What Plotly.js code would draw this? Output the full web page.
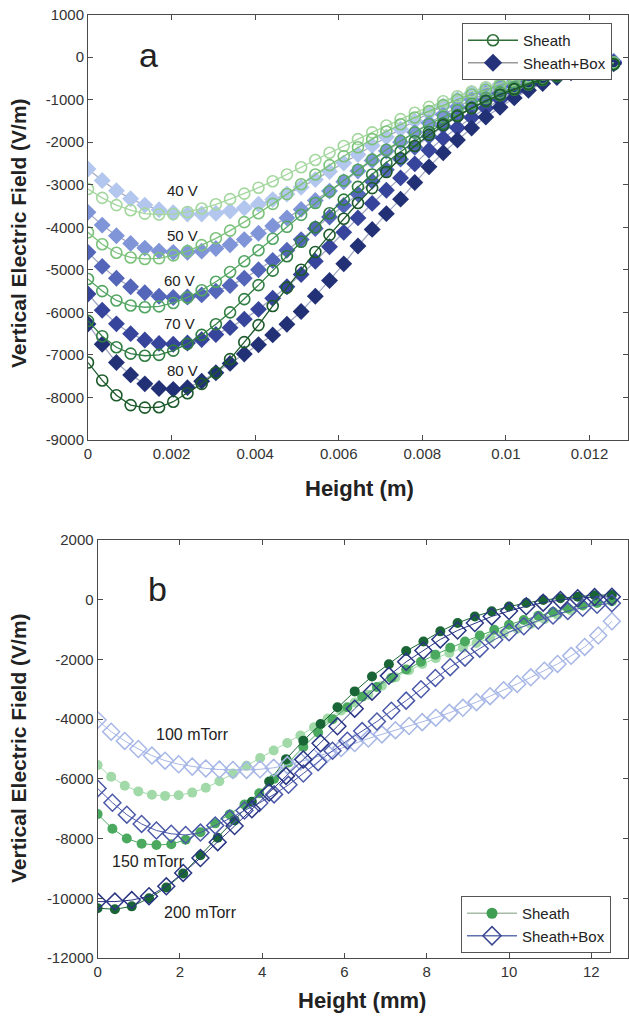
<!DOCTYPE html>
<html>
<head>
<meta charset="utf-8">
<script src="https://cdn.plot.ly/plotly-3.0.1.min.js"></script>
<style>html,body{margin:0;padding:0;background:#fff;}#chart{width:629px;height:1021px;}</style>
</head>
<body>
<div id="chart"></div>
<script>
// ---------- Panel a : height (m) ----------
const heightA = [0, 0.00034, 0.00068, 0.00102, 0.00136, 0.0017, 0.00204, 0.00238, 0.00272, 0.00306,
  0.0034, 0.00374, 0.00408, 0.00442, 0.00476, 0.0051, 0.00544, 0.00578, 0.00612, 0.00646,
  0.0068, 0.00714, 0.00748, 0.00782, 0.00816, 0.0085, 0.00884, 0.00918, 0.00952, 0.00986,
  0.0102, 0.01054, 0.01088, 0.01122, 0.01156, 0.0119, 0.01224, 0.01258];

const voltageLabels = ["40 V", "50 V", "60 V", "70 V", "80 V"];

const sheath40 = [-3100, -3310, -3480, -3600, -3680, -3700, -3690, -3640, -3560, -3460,
  -3340, -3210, -3070, -2920, -2760, -2590, -2420, -2250, -2090, -1930,
  -1770, -1610, -1460, -1310, -1170, -1040, -920, -810, -710, -620,
  -540, -460, -390, -330, -270, -220, -170, -130];
const sheath50 = [-4120, -4400, -4600, -4710, -4745, -4730, -4660, -4560, -4420, -4260,
  -4080, -3880, -3670, -3450, -3220, -2990, -2760, -2540, -2330, -2120,
  -1930, -1750, -1580, -1420, -1270, -1130, -1000, -880, -770, -670,
  -580, -490, -410, -340, -280, -220, -170, -130];
const sheath60 = [-5215, -5500, -5720, -5840, -5880, -5860, -5780, -5650, -5480, -5280,
  -5050, -4800, -4540, -4270, -3990, -3710, -3430, -3160, -2900, -2650,
  -2410, -2180, -1970, -1770, -1580, -1410, -1250, -1100, -960, -830,
  -710, -600, -500, -410, -330, -260, -200, -150];
const sheath70 = [-6200, -6560, -6820, -6970, -7020, -7000, -6900, -6740, -6530, -6280,
  -6000, -5690, -5360, -5020, -4680, -4340, -4000, -3670, -3350, -3050,
  -2760, -2480, -2220, -1980, -1760, -1560, -1370, -1200, -1040, -900,
  -770, -650, -540, -450, -360, -290, -220, -170];
const sheath80 = [-7180, -7600, -7950, -8180, -8240, -8230, -8100, -7900, -7680, -7420,
  -7100, -6700, -6300, -5850, -5420, -5000, -4580, -4180, -3800, -3430,
  -3080, -2700, -2380, -2090, -1830, -1600, -1390, -1200, -1030, -880,
  -750, -630, -520, -430, -350, -280, -220, -170];

const box40 = [-2630, -2900, -3140, -3330, -3480, -3590, -3660, -3690, -3690, -3670,
  -3620, -3550, -3460, -3350, -3220, -3060, -2880, -2690, -2490, -2290,
  -2080, -1880, -1690, -1500, -1320, -1150, -990, -850, -760, -640,
  -540, -450, -370, -300, -240, -190, -150, -110];
const box50 = [-3650, -3950, -4200, -4380, -4490, -4560, -4590, -4590, -4560, -4500,
  -4410, -4290, -4140, -3970, -3780, -3580, -3370, -3150, -2930, -2680,
  -2430, -2210, -2000, -1770, -1550, -1350, -1170, -1000, -850, -710,
  -580, -470, -370, -290, -220, -170, -130, -100];
const box60 = [-4590, -4920, -5200, -5400, -5540, -5620, -5650, -5640, -5590, -5500,
  -5370, -5200, -5000, -4780, -4540, -4290, -4030, -3760, -3490, -3220,
  -2920, -2650, -2400, -2120, -1860, -1620, -1400, -1200, -1010, -850,
  -690, -560, -450, -350, -270, -210, -160, -120];
const box70 = [-5570, -5950, -6270, -6500, -6650, -6730, -6750, -6720, -6640, -6520,
  -6360, -6160, -5930, -5670, -5400, -5110, -4800, -4460, -4120, -3780,
  -3440, -3130, -2840, -2510, -2190, -1910, -1660, -1420, -1200, -1000,
  -820, -660, -530, -410, -310, -240, -180, -130];
const box80 = [-6275, -6750, -7180, -7470, -7680, -7790, -7810, -7770, -7620, -7420,
  -7200, -6980, -6760, -6530, -6280, -5980, -5620, -5250, -4860, -4440,
  -4050, -3680, -3340, -2950, -2580, -2250, -1950, -1670, -1410, -1180,
  -960, -780, -620, -480, -370, -290, -220, -160];

// ---------- Panel b : height (mm) ----------
const pressureLabels = ["100 mTorr", "150 mTorr", "200 mTorr"];

const height100 = [0, 0.33, 0.66, 0.99, 1.32, 1.64, 1.97, 2.30, 2.63, 2.96, 3.29, 3.62, 3.95,
  4.28, 4.61, 4.93, 5.26, 5.59, 5.92, 6.25, 6.58, 6.91, 7.24, 7.57, 7.89, 8.22, 8.55, 8.88,
  9.21, 9.54, 9.87, 10.20, 10.53, 10.86, 11.18, 11.51, 11.84, 12.17, 12.50];
const height150 = [0, 0.36, 0.71, 1.07, 1.43, 1.79, 2.14, 2.50, 2.86, 3.21, 3.57, 3.93,
  4.29, 4.64, 5.00, 5.36, 5.71, 6.07, 6.43, 6.79, 7.14, 7.50, 7.86, 8.21, 8.57, 8.93,
  9.29, 9.64, 10.00, 10.36, 10.71, 11.07, 11.43, 11.79, 12.14, 12.50];
const height200 = [0, 0.42, 0.83, 1.25, 1.67, 2.08, 2.50, 2.92, 3.33, 3.75, 4.17, 4.58,
  5.00, 5.42, 5.83, 6.25, 6.67, 7.08, 7.50, 7.92, 8.33, 8.75, 9.17, 9.58, 10.00, 10.42,
  10.83, 11.25, 11.67, 12.08, 12.50];

const sheath100mT = [-5540, -5930, -6230, -6420, -6530, -6570, -6550, -6460, -6300, -6080,
  -5820, -5560, -5300, -5050, -4800, -4550, -4270, -3980, -3710, -3440,
  -3180, -2880, -2600, -2360, -2150, -1960, -1780, -1610, -1450, -1290,
  -1130, -970, -810, -650, -500, -360];
const sheath150mT = [-7180, -7670, -8000, -8170, -8215, -8190, -8040, -7790, -7490, -7190,
  -6860, -6480, -6000, -5450, -4930, -4450, -4000, -3600, -3250, -2920,
  -2620, -2340, -2080, -1840, -1610, -1400, -1200, -1010, -840, -680,
  -540, -410, -290, -190, -110, -50];
const sheath200mT = [-10330, -10370, -10270, -10000, -9640, -9170, -8560, -7970, -7390, -6770,
  -6090, -5340, -4720, -4160, -3600, -3070, -2570, -2160, -1720, -1400,
  -1060, -780, -560, -390, -230, -110, -10, 50, 100, 150, 160];

const box100mT = [-4030, -4420, -4730, -5000, -5220, -5390, -5510, -5590, -5650, -5690,
  -5700, -5700, -5680, -5630, -5540, -5420, -5290, -5140, -4970, -4800,
  -4650, -4510, -4370, -4230, -4100, -3950, -3790, -3620, -3430, -3230,
  -3030, -2820, -2600, -2380, -2150, -1880, -1580, -1200, -720];
const box150mT = [-6320, -6800, -7200, -7510, -7730, -7840, -7880, -7800, -7560, -7330,
  -7060, -6810, -6520, -6200, -5820, -5440, -5060, -4720, -4400, -4080,
  -3720, -3380, -3000, -2620, -2260, -1940, -1640, -1340, -1090, -890,
  -700, -530, -380, -270, -170, -120];
const box200mT = [-10110, -10110, -10060, -9930, -9600, -9150, -8650, -8120, -7580, -7020,
  -6460, -5900, -5350, -4810, -4240, -3650, -3080, -2550, -2080, -1700,
  -1330, -1030, -780, -560, -380, -220, -100, -10, 50, 90, 100];

// tick labels
const yTicksA = [1000, 0, -1000, -2000, -3000, -4000, -5000, -6000, -7000, -8000, -9000];
const xTicksA = [0, 0.002, 0.004, 0.006, 0.008, 0.01, 0.012];
const xTickTextA = ["0", "0.002", "0.004", "0.006", "0.008", "0.01", "0.012"];
const yTicksB = [2000, 0, -2000, -4000, -6000, -8000, -10000, -12000];
const xTicksB = [0, 2, 4, 6, 8, 10, 12];

// ---------- styles ----------
const FONT = "Liberation Sans, Arial, Helvetica, sans-serif";
const greensA = ["#a3d79e", "#7cc27b", "#52a562", "#307d42", "#1c5a2b"];
const bluesA = ["#b3c7ee", "#7f95d8", "#5366b9", "#36459b", "#223176"];
const greensB = ["#a2d9a8", "#4aa95e", "#1a6535"];
const bluesB = ["#a7b7e6", "#4b59a9", "#2a3684"];

const traces = [];
const boxA = [box40, box50, box60, box70, box80];
const sheathA = [sheath40, sheath50, sheath60, sheath70, sheath80];
boxA.forEach((ys, i) => traces.push({
  type: "scatter", mode: "lines+markers", x: heightA, y: ys, xaxis: "x", yaxis: "y",
  name: "Sheath+Box " + voltageLabels[i], showlegend: false,
  line: {color: "#a2aac2", width: 1.3},
  marker: {symbol: "diamond", size: 13, color: bluesA[i], line: {width: 0}}
}));
sheathA.forEach((ys, i) => traces.push({
  type: "scatter", mode: "lines+markers", x: heightA, y: ys, xaxis: "x", yaxis: "y",
  name: "Sheath " + voltageLabels[i], showlegend: false,
  line: {color: greensA[i], width: 1.3},
  marker: {symbol: "circle-open", size: 11, color: greensA[i], line: {width: 1.6, color: greensA[i]}}
}));
// legend entries panel a
traces.push({type: "scatter", mode: "lines+markers", x: [null], y: [null], xaxis: "x", yaxis: "y",
  name: "Sheath", legend: "legend", line: {color: "#2f6e36", width: 1.3},
  marker: {symbol: "circle-open", size: 11, color: "#2f6e36", line: {width: 1.6}}});
traces.push({type: "scatter", mode: "lines+markers", x: [null], y: [null], xaxis: "x", yaxis: "y",
  name: "Sheath+Box", legend: "legend", line: {color: "#999999", width: 1.3},
  marker: {symbol: "diamond", size: 14, color: "#25347a"}});

const hB = [height100, height150, height200];
const sheathB = [sheath100mT, sheath150mT, sheath200mT];
const boxB = [box100mT, box150mT, box200mT];
sheathB.forEach((ys, i) => traces.push({
  type: "scatter", mode: "lines+markers", x: hB[i], y: ys, xaxis: "x2", yaxis: "y2",
  name: "Sheath " + pressureLabels[i], showlegend: false,
  line: {color: greensB[i], width: 1},
  marker: {symbol: "circle", size: 10, color: greensB[i]}
}));
boxB.forEach((ys, i) => traces.push({
  type: "scatter", mode: "lines+markers", x: hB[i], y: ys, xaxis: "x2", yaxis: "y2",
  name: "Sheath+Box " + pressureLabels[i], showlegend: false,
  line: {color: bluesB[i], width: 1},
  marker: {symbol: "diamond-open", size: 13, color: bluesB[i], line: {width: 1.5, color: bluesB[i]}}
}));
traces.push({type: "scatter", mode: "lines+markers", x: [null], y: [null], xaxis: "x2", yaxis: "y2",
  name: "Sheath", legend: "legend2", line: {color: "#a7bca7", width: 1.3},
  marker: {symbol: "circle", size: 11, color: "#3e9e52"}});
traces.push({type: "scatter", mode: "lines+markers", x: [null], y: [null], xaxis: "x2", yaxis: "y2",
  name: "Sheath+Box", legend: "legend2", line: {color: "#6170b0", width: 1.3},
  marker: {symbol: "diamond-open", size: 14, color: "#3a4690", line: {width: 1.5}}});

const W = 629, H = 1021;
const px = v => v / W, py = v => 1 - v / H;
const axisCommon = {
  showline: true, mirror: "ticks", linecolor: "#4a4a4a", linewidth: 1,
  ticks: "inside", ticklen: 5, tickcolor: "#4a4a4a", showgrid: false, zeroline: false,
  tickfont: {family: FONT, size: 15, color: "#333"}, fixedrange: true
};

const annotations = [];
const addText = (text, x, y, size, opts) => annotations.push(Object.assign({
  text: text, x: x, y: y, xref: "paper", yref: "paper", showarrow: false,
  xanchor: "center", yanchor: "middle", font: {family: FONT, size: size, color: "#222"}
}, opts || {}));
addText("a", px(148), py(55), 34);
addText("b", px(157), py(589), 34);
addText("<b>Height (m)</b>", px(359), py(488), 22);
addText("<b>Height (mm)</b>", px(362), py(1000), 22);
addText("<b>Vertical Electric Field (V/m)</b>", px(18), py(233), 21, {textangle: -90});
addText("<b>Vertical Electric Field (V/m)</b>", px(18), py(748), 21, {textangle: -90});

const vLabelPos = [[0.00227, -3141], [0.00227, -4200], [0.0022, -5259], [0.0022, -6270], [0.00227, -7376]];
voltageLabels.forEach((t, i) => annotations.push({text: t, x: vLabelPos[i][0], y: vLabelPos[i][1],
  xref: "x", yref: "y", showarrow: false, font: {family: FONT, size: 15, color: "#222"}}));
const pLabelPos = [[2.3, -4530], [1.23, -8780], [2.49, -10460]];
pressureLabels.forEach((t, i) => annotations.push({text: t, x: pLabelPos[i][0], y: pLabelPos[i][1],
  xref: "x2", yref: "y2", showarrow: false, font: {family: FONT, size: 16, color: "#222"}}));

const legendCommon = {
  xanchor: "left", yanchor: "top", bgcolor: "#ffffff", bordercolor: "#555555", borderwidth: 1,
  font: {family: FONT, size: 15, color: "#222"}, tracegroupgap: 0, itemwidth: 50
};

const layout = {
  width: W, height: H, margin: {l: 0, r: 0, t: 0, b: 0},
  paper_bgcolor: "#fff", plot_bgcolor: "#fff", showlegend: true,
  xaxis: Object.assign({}, axisCommon, {domain: [px(88), px(627.5)], range: [0, 0.01291],
    tickvals: xTicksA, ticktext: xTickTextA, anchor: "y"}),
  yaxis: Object.assign({}, axisCommon, {domain: [py(440), py(14.5)], range: [-9000, 1000],
    tickvals: yTicksA, ticktext: yTicksA.map(String), anchor: "x"}),
  xaxis2: Object.assign({}, axisCommon, {domain: [px(97.6), px(627.5)], range: [0, 12.88],
    tickvals: xTicksB, ticktext: xTicksB.map(String), anchor: "y2"}),
  yaxis2: Object.assign({}, axisCommon, {domain: [py(958), py(540)], range: [-12000, 2000],
    tickvals: yTicksB, ticktext: yTicksB.map(String), anchor: "x2"}),
  legend: Object.assign({}, legendCommon, {x: px(462), y: py(23)}),
  legend2: Object.assign({}, legendCommon, {x: px(461), y: py(896)}),
  annotations: annotations
};

Plotly.newPlot("chart", traces, layout, {staticPlot: true, displayModeBar: false});
</script>
</body>
</html>
